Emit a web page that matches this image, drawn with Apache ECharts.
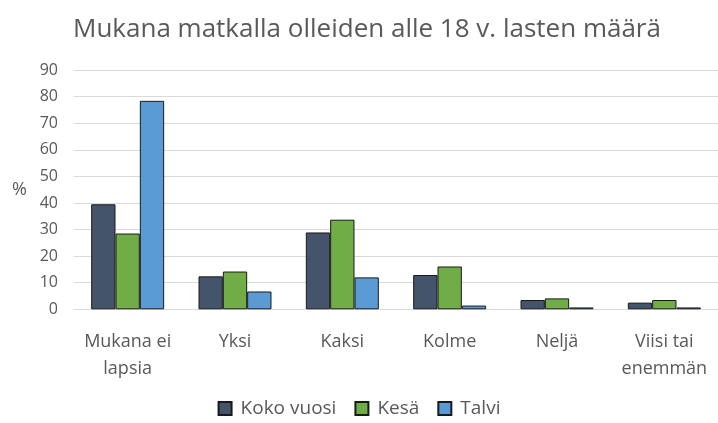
<!DOCTYPE html>
<html>
<head>
<meta charset="utf-8">
<script src="https://cdn.jsdelivr.net/npm/echarts@6/dist/echarts.min.js"></script>
<style>
  html, body { margin: 0; padding: 0; background: #fff; }
  #chart { width: 718px; height: 423px; }
</style>
</head>
<body>
<div id="chart"></div>
<script>
var categories = ['Mukana ei\nlapsia', 'Yksi', 'Kaksi', 'Kolme', 'Neljä', 'Viisi tai\nenemmän'];
var kokoVuosi = [39.5, 12.4, 28.9, 12.9, 3.5, 2.5];
var kesa = [28.5, 14.2, 33.7, 16.1, 4.1, 3.5];
var talvi = [78.4, 6.7, 12.0, 1.4, 0.7, 0.7];

var font = 'Open Sans';
var textGrey = '#595959';

var myChart = echarts.init(document.getElementById('chart'));
var option = {
  title: {
    text: 'Mukana matkalla olleiden alle 18 v. lasten määrä',
    left: 68,
    top: 12,
    textStyle: { fontFamily: font, fontSize: 26, fontWeight: 'normal', color: textGrey }
  },
  legend: {
    bottom: 0,
    left: 'center',
    itemWidth: 13,
    itemHeight: 13,
    itemGap: 18,
    icon: 'rect',
    textStyle: { fontFamily: font, fontSize: 19, color: textGrey, padding: [0, 0, 0, 4] },
    data: ['Koko vuosi', 'Kesä', 'Talvi']
  },
  grid: { left: 74, width: 648, top: 70, height: 239.3 },
  xAxis: {
    type: 'category',
    data: categories,
    axisLine: { lineStyle: { color: '#d9d9d9' } },
    axisTick: { show: false },
    axisLabel: { fontFamily: font, fontSize: 18, color: textGrey, margin: 19, lineHeight: 27, interval: 0 }
  },
  yAxis: {
    type: 'value',
    min: 0,
    max: 90,
    interval: 10,
    name: '%',
    nameLocation: 'middle',
    nameRotate: 0,
    nameGap: 47,
    nameTextStyle: { fontFamily: font, fontSize: 18, color: textGrey },
    axisLine: { show: false },
    axisTick: { show: false },
    splitLine: { lineStyle: { color: '#d9d9d9' } },
    axisLabel: { fontFamily: font, fontSize: 16, color: textGrey, margin: 16 }
  },
  series: [
    { name: 'Koko vuosi', type: 'bar', data: kokoVuosi, barGap: '0%', barCategoryGap: '32%',
      itemStyle: { color: '#44546A', borderColor: '#1a1a1a', borderWidth: 1 } },
    { name: 'Kesä', type: 'bar', data: kesa,
      itemStyle: { color: '#70AD47', borderColor: '#1a1a1a', borderWidth: 1 } },
    { name: 'Talvi', type: 'bar', data: talvi,
      itemStyle: { color: '#5B9BD5', borderColor: '#1a1a1a', borderWidth: 1 } }
  ]
};
myChart.setOption(option);
window.onresize = myChart.resize;
</script>
</body>
</html>
